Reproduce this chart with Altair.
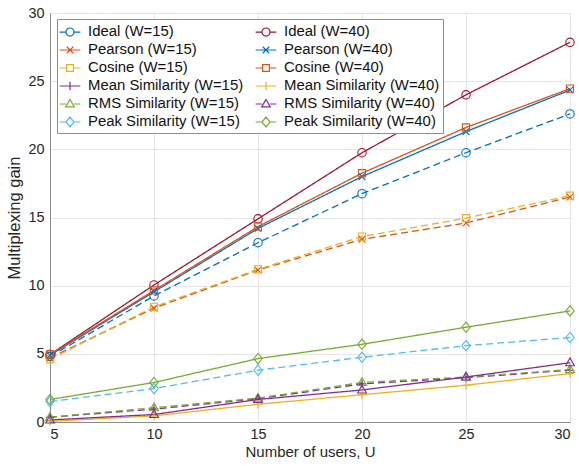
import altair as alt
import pandas as pd

# ---------------- data ----------------
U = [5, 10, 15, 20, 25, 30]

ideal_15 = [4.8, 9.25, 13.15, 16.75, 19.75, 22.6]
pearson_15 = [4.7, 8.35, 11.15, 13.4, 14.6, 16.5]
cosine_15 = [4.6, 8.45, 11.2, 13.6, 14.95, 16.6]
mean_15 = [0.35, 0.95, 1.7, 2.8, 3.25, 3.8]
rms_15 = [0.35, 1.05, 1.75, 2.9, 3.3, 3.85]
peak_15 = [1.5, 2.45, 3.8, 4.75, 5.6, 6.2]

ideal_40 = [4.95, 10.05, 14.9, 19.75, 24.0, 27.85]
pearson_40 = [4.9, 9.55, 14.2, 18.0, 21.3, 24.35]
cosine_40 = [4.95, 9.65, 14.33, 18.25, 21.6, 24.45]
mean_40 = [0.05, 0.45, 1.3, 2.0, 2.7, 3.55]
rms_40 = [0.15, 0.55, 1.65, 2.35, 3.3, 4.35]
peak_40 = [1.65, 2.9, 4.65, 5.7, 6.95, 8.15]

names_15 = ["Ideal (W=15)", "Pearson (W=15)", "Cosine (W=15)",
            "Mean Similarity (W=15)", "RMS Similarity (W=15)", "Peak Similarity (W=15)"]
names_40 = ["Ideal (W=40)", "Pearson (W=40)", "Cosine (W=40)",
            "Mean Similarity (W=40)", "RMS Similarity (W=40)", "Peak Similarity (W=40)"]
values_15 = [ideal_15, pearson_15, cosine_15, mean_15, rms_15, peak_15]
values_40 = [ideal_40, pearson_40, cosine_40, mean_40, rms_40, peak_40]

colors_15 = ["#0072BD", "#D95319", "#EDB120", "#7E2F8E", "#77AC30", "#4DBEEE"]
colors_40 = ["#A2142F", "#0072BD", "#D95319", "#EDB120", "#7E2F8E", "#77AC30"]

# ---------------- styles ----------------
marker_paths = [
    "M1.05,0 A1.05,1.05 0 1,1 -1.05,0 A1.05,1.05 0 1,1 1.05,0 Z",   # circle
    "M-0.85,-0.85 L0.85,0.85 M-0.85,0.85 L0.85,-0.85",               # x
    "M-0.9,-0.9 L0.9,-0.9 L0.9,0.9 L-0.9,0.9 Z",                      # square
    "M-1.1,0 L1.1,0 M0,-1.1 L0,1.1",                                  # plus
    "M0,-1.2 L1.1,0.75 L-1.1,0.75 Z",                                 # triangle
    "M0,-1.3 L1.05,0 L0,1.3 L-1.05,0 Z",                              # diamond
]
legend_paths = [
    "M-1.15,0 L-0.45,0 M0.45,0 L1.15,0 M0.45,0 A0.45,0.45 0 1,1 -0.45,0 A0.45,0.45 0 1,1 0.45,0 Z",
    "M-1.15,0 L1.15,0 M-0.36,-0.36 L0.36,0.36 M-0.36,0.36 L0.36,-0.36",
    "M-1.15,0 L-0.38,0 M0.38,0 L1.15,0 M-0.38,-0.38 L0.38,-0.38 L0.38,0.38 L-0.38,0.38 Z",
    "M-1.15,0 L1.15,0 M0,-0.48 L0,0.48",
    "M-1.15,0 L-0.45,0 M0.45,0 L1.15,0 M0,-0.5 L0.48,0.32 L-0.48,0.32 Z",
    "M-1.15,0 L-0.45,0 M0.45,0 L1.15,0 M0,-0.55 L0.45,0 L0,0.55 L-0.45,0 Z",
]

rows = []
for names, vals in ((names_15, values_15), (names_40, values_40)):
    for n, v in zip(names, vals):
        for u, g in zip(U, v):
            rows.append({"U": u, "gain": g, "series": n})
df = pd.DataFrame(rows)

plot_order = names_15 + names_40
plot_colors = colors_15 + colors_40
plot_dashes = [[7, 4]] * 6 + [[1, 0]] * 6
plot_shapes = marker_paths + marker_paths
legend_shapes = legend_paths + legend_paths

FONT = "Liberation Sans"

x_enc = alt.X("U:Q", scale=alt.Scale(domain=[5, 30], nice=False),
              axis=alt.Axis(values=U, title="Number of users, U", labelPadding=5,
                            titlePadding=4, titleFontSize=15))
y_enc = alt.Y("gain:Q", scale=alt.Scale(domain=[0, 30], nice=False),
              axis=alt.Axis(values=[0, 5, 10, 15, 20, 25, 30], title="Multiplexing gain",
                            labelPadding=6, titlePadding=5, titleFontSize=16.5))

base = alt.Chart(df)

lines = base.mark_line(strokeWidth=1.3).encode(
    x=x_enc, y=y_enc,
    color=alt.Color("series:N", scale=alt.Scale(domain=plot_order, range=plot_colors), legend=None),
    strokeDash=alt.StrokeDash("series:N", scale=alt.Scale(domain=plot_order, range=plot_dashes), legend=None),
)

points = base.mark_point(filled=False, size=64, strokeWidth=1.1, opacity=1).encode(
    x=x_enc, y=y_enc,
    color=alt.Color("series:N", scale=alt.Scale(domain=plot_order, range=plot_colors), legend=None),
    shape=alt.Shape("series:N", scale=alt.Scale(domain=plot_order, range=plot_shapes), legend=None),
)

leg = alt.Legend(
    title=None, orient="none", legendX=7, legendY=6, columns=2,
    columnPadding=9, rowPadding=1, padding=3,
    symbolSize=324, symbolStrokeWidth=1.2, symbolOpacity=1,
    labelFont=FONT, labelFontSize=14.9, labelColor="#111111", labelLimit=300,
    labelOffset=8, strokeColor="#8f8f8f", fillColor="white",
)

legend_layer = base.transform_filter("datum.U < 0").mark_point(filled=False, opacity=1).encode(
    x=x_enc, y=y_enc,
    color=alt.Color("series:N", scale=alt.Scale(domain=plot_order, range=plot_colors), legend=leg),
    shape=alt.Shape("series:N", scale=alt.Scale(domain=plot_order, range=legend_shapes), legend=leg),
)

chart = alt.layer(lines, points, legend_layer).resolve_scale(
    color="independent", shape="independent", strokeDash="independent"
).properties(
    width=520, height=409,
    autosize=alt.AutoSizeParams(type="none"),
    padding={"left": 50, "top": 13, "right": 9, "bottom": 44},
).configure_view(
    stroke="#8a8a8a", strokeWidth=1
).configure_axis(
    labelFont=FONT, titleFont=FONT, labelFontSize=14.4,
    titleFontWeight="normal", labelColor="#262626", titleColor="#262626",
    ticks=False, domainColor="#8a8a8a", gridColor="#e6e6e6", gridWidth=1,
)

chart.save("out.html", embed_options={"renderer": "svg", "actions": False})
